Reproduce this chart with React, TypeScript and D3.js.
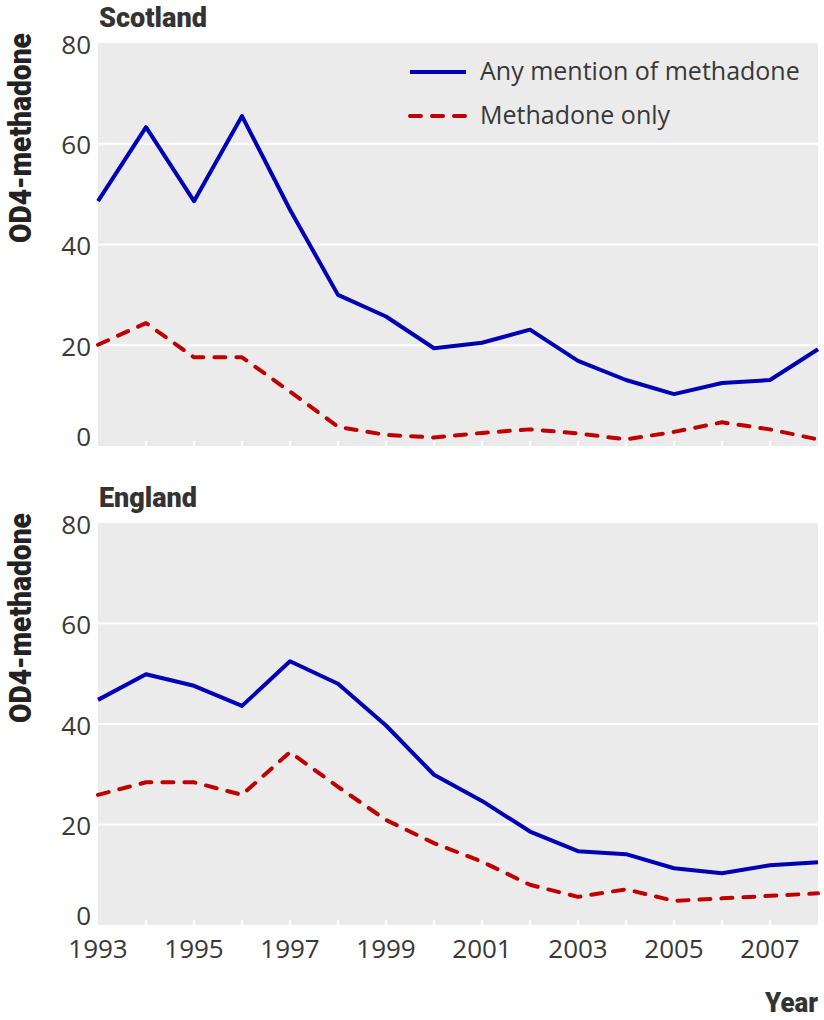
import React from "react";
import * as d3 from "d3";

const years = [1993, 1994, 1995, 1996, 1997, 1998, 1999, 2000, 2001, 2002, 2003, 2004, 2005, 2006, 2007, 2008];
const scotlandAny = [48.6, 63.3, 48.6, 65.5, 46.9, 30.0, 25.7, 19.4, 20.5, 23.1, 16.9, 13.1, 10.3, 12.5, 13.1, 19.2];
const scotlandOnly = [20.1, 24.4, 17.6, 17.6, 10.8, 3.8, 2.2, 1.7, 2.6, 3.3, 2.5, 1.3, 2.8, 4.7, 3.3, 1.3];
const englandAny = [44.8, 49.9, 47.6, 43.6, 52.5, 48.0, 39.7, 29.9, 24.7, 18.6, 14.7, 14.1, 11.3, 10.3, 11.9, 12.5];
const englandOnly = [25.9, 28.4, 28.4, 25.9, 34.4, 27.5, 20.9, 16.3, 12.6, 8.0, 5.6, 7.1, 4.8, 5.3, 5.8, 6.3];
const yTicks = [0, 20, 40, 60, 80];
const xTickLabels = [1993, 1995, 1997, 1999, 2001, 2003, 2005, 2007];
const seriesNames = ["Any mention of methadone", "Methadone only"];
const panelTitles = ["Scotland", "England"];
const yAxisTitle = "OD4-methadone";
const xAxisTitle = "Year";

const W = 824;
const H = 1020;
const left = 98;
const right = 818;
const BLUE = "#0000b4";
const RED = "#c00000";
const TXT = "#383838";
const FONT = "'Open Sans', sans-serif";
const BOLD = "Roboto, sans-serif";

function Panel({ top, bottom, title, any, only, legend }: { top: number; bottom: number; title: string; any: number[]; only: number[]; legend: boolean }) {
  const x = d3.scaleLinear().domain([1993, 2008]).range([left, right]);
  const y = d3.scaleLinear().domain([0, 80]).range([bottom, top]);
  const line = d3
    .line<number>()
    .x((_, i) => x(years[i]))
    .y((d) => y(d));
  return (
    <g>
      <rect x={left} y={top} width={right - left} height={bottom - top} fill="#ebebeb" />
      {[20, 40, 60].map((v) => (
        <line key={v} x1={left} x2={right} y1={y(v)} y2={y(v)} stroke="#fff" strokeWidth={2.2} />
      ))}
      {years.slice(1, -1).map((yr) => (
        <line key={yr} x1={x(yr)} x2={x(yr)} y1={bottom} y2={bottom - 5} stroke="#fff" strokeWidth={2} />
      ))}
      {yTicks.map((v) => (
        <text key={v} x={91} y={v === 0 ? y(0) : y(v) + 10.5} textAnchor="end" fontSize={26} fill={TXT} fontFamily={FONT}>
          {v}
        </text>
      ))}
      <text x={99} y={top - 16} fontSize={28} fontWeight={900} fill="#333" fontFamily={BOLD} textLength={title === "Scotland" ? 108 : 98} lengthAdjust="spacingAndGlyphs">
        {title}
      </text>
      <text
        transform={`translate(31,${top + 200}) rotate(-90)`}
        fontSize={31}
        fontWeight={900}
        fill="#222"
        fontFamily={BOLD}
        textLength={210}
        lengthAdjust="spacingAndGlyphs"
      >
        {yAxisTitle}
      </text>
      <path d={line(only) || ""} fill="none" stroke={RED} strokeWidth={4} strokeDasharray="11,11" strokeLinecap="round" strokeLinejoin="round" />
      <path d={line(any) || ""} fill="none" stroke={BLUE} strokeWidth={4} strokeLinejoin="round" />
      {legend && (
        <g>
          <line x1={410} x2={466} y1={72} y2={72} stroke={BLUE} strokeWidth={4} />
          <text x={480} y={80} fontSize={25} fill={TXT} fontFamily={FONT}>
            {seriesNames[0]}
          </text>
          <line x1={410} x2={468} y1={116} y2={116} stroke={RED} strokeWidth={4} strokeDasharray="11,11" strokeLinecap="round" />
          <text x={480} y={124} fontSize={25} fill={TXT} fontFamily={FONT}>
            {seriesNames[1]}
          </text>
        </g>
      )}
    </g>
  );
}

export default function App() {
  const x = d3.scaleLinear().domain([1993, 2008]).range([left, right]);
  return (
    <svg width={W} height={H} style={{ position: "absolute", left: 0, top: 0, background: "#fff" }}>
      <Panel top={43} bottom={446} title={panelTitles[0]} any={scotlandAny} only={scotlandOnly} legend={true} />
      <Panel top={523} bottom={925} title={panelTitles[1]} any={englandAny} only={englandOnly} legend={false} />
      {xTickLabels.map((yr) => (
        <text key={yr} x={x(yr)} y={958} textAnchor="middle" fontSize={26} fill={TXT} fontFamily={FONT}>
          {yr}
        </text>
      ))}
      <text x={818} y={1012} textAnchor="end" fontSize={27} fontWeight={900} fill="#333" fontFamily={BOLD} textLength={53} lengthAdjust="spacingAndGlyphs">
        {xAxisTitle}
      </text>
    </svg>
  );
}
